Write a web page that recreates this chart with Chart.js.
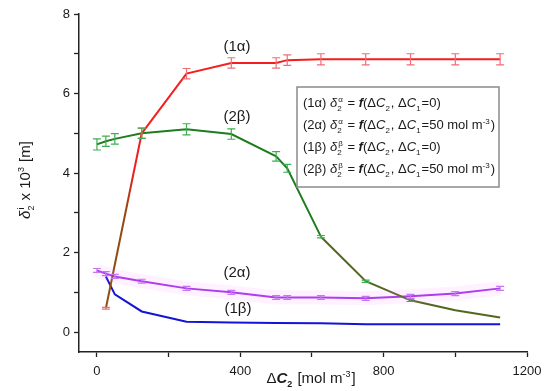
<!DOCTYPE html>
<html>
<head>
<meta charset="utf-8">
<script src="https://cdn.jsdelivr.net/npm/chart.js@4"></script>
<style>
  html, body { margin: 0; padding: 0; background: #fff; }
  #wrap { width: 550px; height: 391px; }
</style>
</head>
<body>
<div id="wrap"><canvas id="myChart" width="550" height="391"></canvas></div>
<script>
const FONT = "'Liberation Sans', Arial, sans-serif";

// x ticks / y ticks
const xTicks = [0, 200, 400, 600, 800, 1000, 1200];
const yTicks = [0, 1, 2, 3, 4, 5, 6, 7, 8];

// (1α)
const red_x = [25, 125, 250, 375, 500, 531, 625, 750, 875, 1000, 1125];
const red_y = [0.6, 5.0, 6.5, 6.77, 6.77, 6.84, 6.86, 6.86, 6.86, 6.86, 6.86];
const red_err = [0.02, 0.13, 0.13, 0.13, 0.13, 0.13, 0.14, 0.14, 0.14, 0.14, 0.14];

// (2β)
const green_x = [0, 25, 50, 125, 250, 375, 500, 531, 625, 750, 875, 1000, 1125];
const green_y = [4.72, 4.8, 4.86, 5.0, 5.1, 4.98, 4.42, 4.12, 2.4, 1.28, 0.8, 0.55, 0.37];
const green_err = [0.14, 0.13, 0.13, 0.13, 0.14, 0.13, 0.12, 0.1, 0.03, 0.03, 0.03, 0, 0];

// (2α)
const purple_x = [0, 25, 50, 125, 250, 375, 500, 531, 625, 750, 875, 1000, 1125];
const purple_y = [1.55, 1.47, 1.4, 1.28, 1.1, 1.0, 0.87, 0.87, 0.87, 0.85, 0.9, 0.97, 1.1];
const purple_err = [0.05, 0.05, 0.05, 0.05, 0.05, 0.05, 0.05, 0.05, 0.05, 0.05, 0.05, 0.05, 0.05];

// (1β)
const blue_x = [25, 50, 125, 250, 375, 500, 625, 750, 875, 1000, 1125];
const blue_y = [1.4, 0.95, 0.52, 0.26, 0.24, 0.23, 0.22, 0.2, 0.2, 0.2, 0.2];

function pts(xs, ys) {
    return xs.map((x, i) => ({ x: x, y: ys[i] }));
}

// rich text: parts with optional sub / sup
function rich(ctx, x, y, parts, size, draw) {
    let cx = x;
    parts.forEach(p => {
        if (p.sub !== undefined || p.sup !== undefined) {
            ctx.font = (p.s || "") + " " + Math.round(size * 0.62) + "px " + FONT;
            const w1 = p.sub ? ctx.measureText(p.sub).width : 0;
            const w2 = p.sup ? ctx.measureText(p.sup).width : 0;
            if (draw) {
                if (p.sub) ctx.fillText(p.sub, cx, y + size * 0.28);
                if (p.sup) ctx.fillText(p.sup, cx + (p.so || 0), y - size * 0.42);
            }
            cx += Math.max(w1, w2 + (p.so || 0)) + 1;
        } else {
            ctx.font = (p.s || "") + " " + size + "px " + FONT;
            if (draw) ctx.fillText(p.t, cx, y);
            cx += ctx.measureText(p.t).width;
        }
    });
    return cx - x;
}

function legendLine(tag, sup, c1) {
    const parts = [
        { t: tag + " " }, { t: "δ", s: "italic" }, { sub: "2", sup: sup, so: 1 },
        { t: " = " }, { t: "f", s: "italic bold" }, { t: "(Δ" }, { t: "C", s: "italic" }, { sub: "2" },
        { t: ", Δ" }, { t: "C", s: "italic" }, { sub: "1" }
    ];
    if (c1 === 0) {
        parts.push({ t: "=0)" });
    } else {
        parts.push({ t: "=50 mol m" }, { sup: "-3" }, { t: ")" });
    }
    return parts;
}

const legendLines = [
    legendLine("(1α)", "α", 0),
    legendLine("(2α)", "α", 50),
    legendLine("(1β)", "β", 0),
    legendLine("(2β)", "β", 50)
];

const errorBars = {
    id: "errorBars",
    afterDatasetsDraw(chart) {
        const ctx = chart.ctx;
        const xs = chart.scales.x, ys = chart.scales.y;
        chart.data.datasets.forEach(ds => {
            if (!ds.err) return;
            ctx.save();
            ctx.strokeStyle = ds.errColor;
            ctx.lineWidth = 1.2;
            ds.data.forEach((p, i) => {
                const e = ds.err[i];
                if (!e) return;
                const px = xs.getPixelForValue(p.x);
                const top = ys.getPixelForValue(p.y + e);
                const bot = ys.getPixelForValue(p.y - e);
                ctx.beginPath();
                ctx.moveTo(px, top); ctx.lineTo(px, bot);
                ctx.moveTo(px - 4, top); ctx.lineTo(px + 4, top);
                ctx.moveTo(px - 4, bot); ctx.lineTo(px + 4, bot);
                ctx.stroke();
            });
            ctx.restore();
        });
    }
};

const texts = {
    id: "texts",
    afterDraw(chart) {
        const ctx = chart.ctx;
        ctx.save();
        ctx.fillStyle = "#1a1a1a";
        ctx.textBaseline = "alphabetic";

        // curve labels
        ctx.font = "15px " + FONT;
        ctx.textAlign = "center";
        ctx.fillText("(1α)", 237, 51);
        ctx.fillText("(2β)", 237, 121);
        ctx.fillText("(2α)", 237, 277);
        ctx.fillText("(1β)", 238, 313);
        ctx.textAlign = "left";

        // legend box
        ctx.fillStyle = "#fff";
        ctx.fillRect(297, 87, 202, 100);
        ctx.strokeStyle = "#8a8a8a";
        ctx.lineWidth = 1.5;
        ctx.strokeRect(297, 87, 202, 100);
        ctx.fillStyle = "#1a1a1a";
        legendLines.forEach((parts, i) => {
            rich(ctx, 303, 107 + i * 22, parts, 13, true);
        });

        // x title
        const xt = [{ t: "Δ" }, { t: "C", s: "italic bold" }, { sub: "2", s: "bold" }, { t: " [mol m" }, { sup: "-3" }, { t: "]" }];
        const wx = rich(ctx, 0, 0, xt, 15, false);
        rich(ctx, 311 - wx / 2, 383, xt, 15, true);

        // y title
        const yt = [{ t: "δ", s: "italic" }, { sub: "2", sup: "i", so: 1 }, { t: " x 10" }, { sup: "3" }, { t: " [m]" }];
        const wy = rich(ctx, 0, 0, yt, 15, false);
        ctx.translate(30, 180);
        ctx.rotate(-Math.PI / 2);
        rich(ctx, -wy / 2, 0, yt, 15, true);
        ctx.restore();
    }
};

const data = {
    datasets: [
        {
            // pink haze behind (2α)
            data: pts(purple_x, purple_y),
            borderColor: "rgba(255, 120, 255, 0.1)",
            borderWidth: 14
        },
        {
            data: pts(red_x, red_y),
            borderColor: "rgb(245, 30, 30)",
            segment: {
                borderColor: c => {
                    if (c.p0.parsed.x > 100) return undefined;
                    const g = c.chart.ctx.createLinearGradient(0, c.p0.y, 0, c.p1.y);
                    g.addColorStop(0, "rgb(140, 80, 20)");
                    g.addColorStop(0.55, "rgb(150, 70, 20)");
                    g.addColorStop(0.8, "rgb(240, 30, 30)");
                    return g;
                }
            },
            err: red_err,
            errColor: "rgb(240, 110, 120)"
        },
        {
            data: pts(green_x, green_y),
            borderColor: "rgb(30, 125, 30)",
            segment: {
                borderColor: c => c.p0.parsed.x >= 600 ? "rgb(80, 105, 30)" : undefined
            },
            err: green_err,
            errColor: "rgb(60, 175, 80)"
        },
        {
            data: pts(purple_x, purple_y),
            borderColor: "rgb(165, 55, 235)",
            err: purple_err,
            errColor: "rgb(195, 120, 240)"
        },
        {
            data: pts(blue_x, blue_y),
            borderColor: "rgb(20, 20, 215)"
        }
    ]
};

const config = {
    type: "line",
    data: data,
    options: {
        responsive: false,
        animation: false,
        elements: {
            point: { radius: 0 },
            line: { borderWidth: 2, tension: 0 }
        },
        layout: { padding: { top: 14, right: 23, left: 0, bottom: 0 } },
        plugins: {
            legend: { display: false },
            tooltip: { enabled: false }
        },
        scales: {
            x: {
                type: "linear",
                min: -50,
                max: 1200,
                afterBuildTicks: s => { s.ticks = xTicks.map(v => ({ value: v })); },
                afterFit: s => { s.height = 39; },
                grid: { drawOnChartArea: false, tickLength: 5, tickColor: "#222", tickWidth: 1.3 },
                border: { color: "#222", width: 1.5 },
                ticks: {
                    color: "#1a1a1a",
                    font: { family: FONT, size: 13 },
                    padding: 7,
                    maxRotation: 0,
                    callback: v => (v % 400 === 0 ? String(v) : "")
                }
            },
            y: {
                type: "linear",
                min: -0.5,
                max: 8,
                afterBuildTicks: s => { s.ticks = yTicks.map(v => ({ value: v })); },
                afterFit: s => { s.width = 79; },
                grid: { drawOnChartArea: false, tickLength: 5, tickColor: "#222", tickWidth: 1.3 },
                border: { color: "#222", width: 1.5 },
                ticks: {
                    color: "#1a1a1a",
                    font: { family: FONT, size: 13 },
                    padding: 4,
                    callback: v => (v % 2 === 0 ? String(v) : "")
                }
            }
        }
    },
    plugins: [errorBars, texts]
};

const myChart = new Chart(document.getElementById("myChart"), config);
</script>
</body>
</html>
